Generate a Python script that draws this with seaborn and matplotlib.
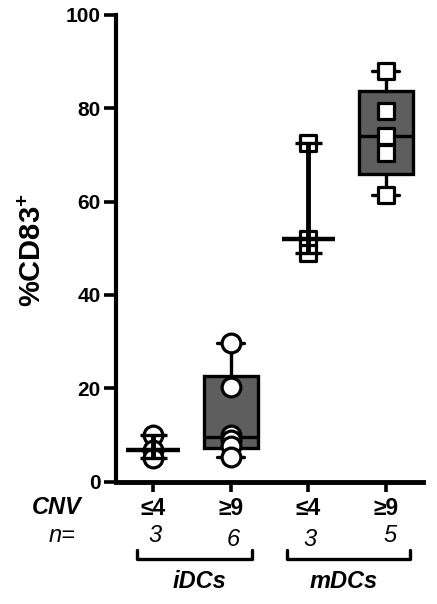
import numpy as np
import pandas as pd
import matplotlib
matplotlib.use("Agg")
import matplotlib.pyplot as plt
import seaborn as sns

sns.set_style("ticks")
plt.rcParams["font.family"] = ["Liberation Sans", "DejaVu Sans"]
plt.rcParams["mathtext.fontset"] = "custom"
plt.rcParams["mathtext.bf"] = "Liberation Sans:bold"
for key in ["text.color", "axes.labelcolor", "xtick.color", "ytick.color",
            "axes.edgecolor"]:
    plt.rcParams[key] = "black"

# CD83 expression per donor, grouped by cell type and copy-number variant
categories = ["iDC_low", "iDC_high", "mDC_low", "mDC_high"]
cnv_labels = ["≤4", "≥9", "≤4", "≥9"]
idc_low = [10.0, 6.8, 5.0]
idc_high = [29.7, 20.3, 10.0, 9.0, 7.7, 5.3]
mdc_low = [72.5, 52.0, 49.0]
mdc_high = [88.0, 79.5, 74.0, 70.5, 61.5]
groups = ["iDCs", "mDCs"]
yticks = [0, 20, 40, 60, 80, 100]

values = {"iDC_low": idc_low, "iDC_high": idc_high,
          "mDC_low": mdc_low, "mDC_high": mdc_high}
df = pd.DataFrame([(c, v) for c in categories for v in values[c]],
                  columns=["cnv", "cd83"])

W, H = 437, 604
fig = plt.figure(figsize=(W / 100, H / 100), dpi=100)
ax = fig.add_axes([116 / W, 1 - 481.5 / H, (423 - 116) / W, (481.5 - 15) / H])

BOX_FILL = "#5e5e5e"
LW = 2.4

# box-and-whisker groups (quartiles by the (n+1)p rule)
box_stats = []
box_pos = []
for i, c in enumerate(categories):
    v = np.asarray(values[c])
    if len(v) < 4:
        continue
    q1, med, q3 = np.percentile(v, [25, 50, 75], method="weibull")
    box_stats.append(dict(med=med, q1=q1, q3=q3, whislo=v.min(), whishi=v.max(),
                          fliers=[]))
    box_pos.append(i)
ax.bxp(box_stats, positions=box_pos, widths=0.7, patch_artist=True,
       showfliers=False,
       boxprops=dict(facecolor=BOX_FILL, edgecolor="black", linewidth=LW),
       medianprops=dict(color="black", linewidth=LW),
       whiskerprops=dict(color="black", linewidth=LW),
       capprops=dict(color="black", linewidth=LW),
       capwidths=0.35, zorder=2)

# individual donors
idc_df = df[df["cnv"].str.startswith("iDC")]
mdc_df = df[df["cnv"].str.startswith("mDC")]
sns.stripplot(data=idc_df, x="cnv", y="cd83", order=categories, jitter=False,
              marker="o", size=13.5, color="white", edgecolor="black",
              linewidth=2.3, ax=ax, zorder=3)
sns.stripplot(data=mdc_df, x="cnv", y="cd83", order=categories, jitter=False,
              marker="s", size=11.5, color="white", edgecolor="black",
              linewidth=2.3, ax=ax, zorder=3)

# median with range for the small groups
for i, c in enumerate(categories):
    v = np.asarray(values[c])
    if len(v) >= 4:
        continue
    ax.vlines(i, v.min(), v.max(), color="black", linewidth=3.5, zorder=4)
    ax.hlines([v.min(), v.max()], i - 0.175, i + 0.175, color="black",
              linewidth=LW, zorder=4)
    ax.hlines(np.median(v), i - 0.345, i + 0.345, color="black",
              linewidth=3.2, zorder=4)

ax.set_xlim(-0.48, 3.48)
ax.set_ylim(0, 100)
ax.set_yticks(yticks)
ax.set_yticklabels([str(t) for t in yticks], fontsize=15, fontweight="bold")
ax.set_xticks(range(len(categories)))
ax.set_xticklabels(cnv_labels, fontsize=16.5, fontweight="bold")
ax.set_xlabel("")
ax.set_ylabel(r"%CD83$^{\mathbf{+}}$", fontsize=21, fontweight="bold")
ax.yaxis.set_label_coords((47 - 116) / (423 - 116), (481.5 - 250) / (481.5 - 15))

sns.despine(ax=ax)
ax.spines["left"].set_linewidth(3)
ax.spines["bottom"].set_linewidth(3.5)
ax.tick_params(axis="y", length=9, width=2.6, pad=2)
ax.tick_params(axis="x", length=7, width=2.6, pad=4)


def ftext(x, y, s, **kw):
    fig.text(x / W, 1 - y / H, s, ha="center", va="center", **kw)


ftext(57, 507, "CNV", fontsize=17, fontweight="bold", style="italic")
ftext(62, 536, "n=", fontsize=17, style="italic")
n_x = [155, 233, 310, 390]
n_y = [536, 540, 540, 535]
for x, y, c in zip(n_x, n_y, categories):
    ftext(x, y, str(len(values[c])), fontsize=17, style="italic")

# brackets grouping the cell types
for (x0, x1) in [(137, 252), (287, 410)]:
    fig.add_artist(plt.Line2D([x0 / W, x0 / W, x1 / W, x1 / W],
                              [1 - 550 / H, 1 - 559 / H, 1 - 559 / H, 1 - 550 / H],
                              color="black", linewidth=2.4))
ftext(199, 582, groups[0], fontsize=17, fontweight="bold", style="italic")
ftext(344, 582, groups[1], fontsize=17, fontweight="bold", style="italic")

fig.savefig("out.png", dpi=100)
